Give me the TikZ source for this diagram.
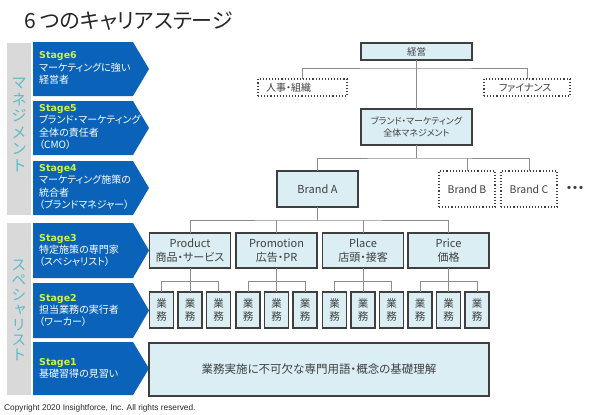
\documentclass[tikz,border=0pt]{standalone}
\usepackage{fontspec}
\setmainfont{Noto Sans CJK JP}[RawFeature={+palt}]
\newfontfamily\vertjp{Noto Sans CJK JP}[RawFeature={+vert}]
\newfontfamily\stagefont{DejaVu Sans}
\newfontfamily\copyfont{Liberation Sans}
\definecolor{stageblue}{HTML}{0A63B8}
\definecolor{stagegreen}{HTML}{CCF24A}
\definecolor{bargray}{HTML}{D9D9D9}
\definecolor{barteal}{HTML}{5BBCC8}
\definecolor{boxfill}{HTML}{DAEEF3}
\definecolor{boxline}{HTML}{3F3F3F}
\definecolor{textgray}{HTML}{404040}
\definecolor{conngray}{HTML}{8C8C8C}
\begin{document}
\begin{tikzpicture}[x=1pt,y=-1pt,
  box/.style={draw=boxline, line width=1.4pt, fill=boxfill, inner sep=0pt, outer sep=0pt, text=textgray, align=center},
  dbox/.style={draw=boxline, line width=1.1pt, dotted, fill=white, inner sep=0pt, outer sep=0pt, text=textgray, align=center},
  conn/.style={draw=conngray, line width=0.8pt},
  stagetext/.style={anchor=west, align=left, text=white, inner sep=0pt, font=\fontsize{10}{12.3}\selectfont},
  vtext/.style={align=center, text=barteal, inner sep=0pt, font=\vertjp\fontsize{15.5}{16.5}\selectfont},
  catbox/.style={box, minimum width=81pt, minimum height=35pt, font=\fontsize{11}{13.5}\selectfont},
  smallbox/.style={box, minimum width=24pt, minimum height=36pt, font=\fontsize{10.5}{13}\selectfont}
]
\useasboundingbox (0,0) rectangle (600,415);

% title
\node[anchor=west, inner sep=0pt, text=black!85, font=\fontsize{21}{24}\selectfont] (title) at (24,21) {6 つのキャリアステージ};

% gray side bars
\fill[bargray] (7,43) rectangle (31,215);
\fill[bargray] (7,223) rectangle (31,395);
\node[vtext] (mgmt) at (19,125) {マ\\ネ\\ジ\\メ\\ン\\ト};
\node[vtext, font=\vertjp\fontsize{15}{15}\selectfont] (spec) at (19,310) {ス\\ペ\\シ\\ャ\\リ\\ス\\ト};

% chevrons
\foreach \t/\b in {42/96, 101/155, 161/215, 223/278, 283/338, 342/395} {
  \fill[stageblue] (33,\t) -- (133,\t) -- (149,{(\t+\b)/2}) -- (133,\b) -- (33,\b) -- cycle;
}
\newcommand{\stg}[1]{{\stagefont\bfseries\fontsize{9.5}{12.3}\selectfont\color{stagegreen}#1}}
\node[stagetext] (s6) at (39,68) {\stg{Stage6}\\マーケティングに強い\\経営者};
\node[stagetext] (s5) at (39,127) {\stg{Stage5}\\ブランド・マーケティング\\全体の責任者\\（CMO）};
\node[stagetext] (s4) at (39,187) {\stg{Stage4}\\マーケティング施策の\\統合者\\（ブランドマネジャー）};
\node[stagetext] (s3) at (39,250.5) {\stg{Stage3}\\特定施策の専門家\\（スペシャリスト）};
\node[stagetext] (s2) at (39,310.5) {\stg{Stage2}\\担当業務の実行者\\（ワーカー）};
\node[stagetext] (s1) at (39,368.5) {\stg{Stage1}\\基礎習得の見習い};

% org chart
\node[box, minimum width=111pt, minimum height=17pt, font=\fontsize{9.5}{12}\selectfont] (keiei) at (416.5,51.5) {経営};
\node[dbox, minimum width=89pt, minimum height=17pt, font=\fontsize{10}{12}\selectfont, text width=73pt, align=left] (jinji) at (302.5,87.5) {人事・組織};
\node[dbox, minimum width=86pt, minimum height=17pt, font=\fontsize{10}{12}\selectfont, text width=56pt, align=left] (fin) at (527,87.5) {ファイナンス};
\node[box, minimum width=111pt, minimum height=36pt, font=\fontsize{9}{12.5}\selectfont] (bm) at (416.5,127) {ブランド・マーケティング\\全体マネジメント};
\node[box, minimum width=81pt, minimum height=36pt, font=\fontsize{11}{12}\selectfont] (ba) at (317.5,189) {Brand A};
\node[dbox, minimum width=56pt, minimum height=36pt, font=\fontsize{10.5}{12}\selectfont] (bb) at (467,189) {Brand B};
\node[dbox, minimum width=56pt, minimum height=36pt, font=\fontsize{10.5}{12}\selectfont] (bc) at (529,189) {Brand C};
\node[inner sep=0pt, text=boxline, font=\fontsize{12}{12}\selectfont] (more) at (575,189) {\textbf{・・・}};

\node[catbox] (prod) at (190,250.5) {Product\\商品・サービス};
\node[catbox] (prom) at (276.5,250.5) {Promotion\\広告・PR};
\node[catbox] (plac) at (363,250.5) {Place\\店頭・接客};
\node[catbox] (pric) at (448.5,250.5) {Price\\価格};

\foreach \c/\x in {prod/190, prom/276.5, plac/363, pric/448.5} {
  \node[smallbox] (\c1) at (\x-28.5,310) {業\\務};
  \node[smallbox] (\c2) at (\x,310) {業\\務};
  \node[smallbox] (\c3) at (\x+28.5,310) {業\\務};
  \draw[conn] (\c.south) -- (\c2.north);
  \draw[conn] (\c1.north) -- ++(0,-11) -| (\c3.north);
}

\node[box, minimum width=340pt, minimum height=53pt, font=\fontsize{11.5}{14}\selectfont] (base) at (319,369.5) {業務実施に不可欠な専門用語・概念の基礎理解};

% connectors
\coordinate (j1) at (416.5,68);
\draw[conn] (keiei.south) -- (bm.north);
\draw[conn] (jinji.north) |- (j1) -| (fin.north);
\coordinate (b1) at (416.5,158);
\draw[conn] (bm.south) -- (b1);
\draw[conn] (ba.north) |- (b1) -| (bc.north);
\draw[conn] (bb.north) -- (bb.north |- b1);
\coordinate (c1) at (317.5,220);
\draw[conn] (ba.south) -- (c1);
\draw[conn] (prod.north) |- (c1) -| (pric.north);
\draw[conn] (prom.north) -- (prom.north |- c1);
\draw[conn] (plac.north) -- (plac.north |- c1);

% copyright
\node[anchor=west, inner sep=0pt, text=black!85, font=\copyfont\fontsize{8.3}{9}\selectfont] (copy) at (4,408) {Copyright 2020 Insightforce, Inc. All rights reserved.};
\end{tikzpicture}
\end{document}
